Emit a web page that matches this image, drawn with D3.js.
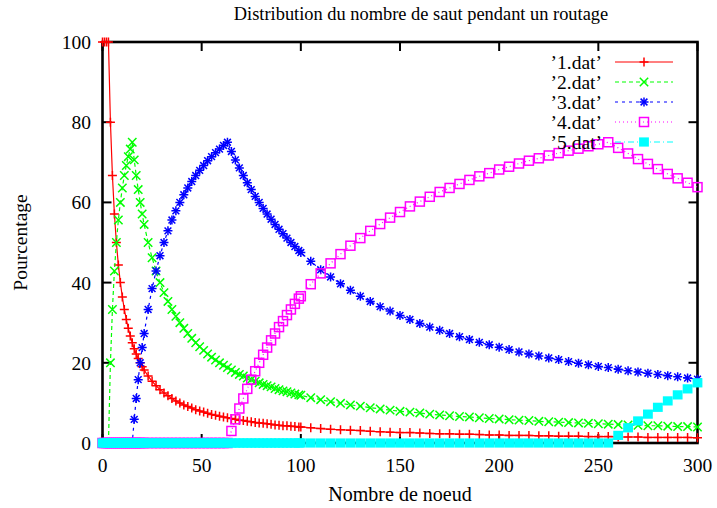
<!DOCTYPE html>
<html>
<head>
<meta charset="utf-8">
<script src="https://cdn.jsdelivr.net/npm/d3@7"></script>
<style>
  body { margin: 0; background: #fff; }
  svg text { font-family: 'Liberation Serif', 'Times New Roman', serif; fill: #000; }
</style>
</head>
<body>
<div id="chart"></div>
<script>
'use strict';

// nombre de noeuds (axe x)
var nodes = [0,1,2,3,4,5,6,7,8,9,10,11,12,13,14,15,16,17,18,19,20,
  21,23,25,27,29,31,33,35,37,39,41,43,45,47,49,51,53,55,57,59,
  61,63,65,67,69,71,73,75,77,79,81,83,85,87,89,91,93,95,97,99,
  100,105,110,115,120,125,130,135,140,145,150,155,160,165,170,175,180,185,190,195,200,
  205,210,215,220,225,230,235,240,245,250,255,260,265,270,275,280,285,290,295,300];

var saut1 = [100,100,100,100,80,66.7,57.1,50,44.4,40,36.4,33.3,30.8,28.6,26.7,25,23.5,22.2,21.1,20,19.0,
  18.2,16.7,15.4,14.3,13.3,12.5,11.8,11.1,10.5,10,9.5,9.1,8.7,8.3,8,7.7,7.4,7.1,6.9,6.7,
  6.5,6.3,6.1,5.9,5.7,5.6,5.4,5.3,5.1,5,4.9,4.8,4.7,4.5,4.4,4.3,4.3,4.2,4.1,4,
  4.0,3.8,3.6,3.4,3.3,3.2,3.1,2.9,2.8,2.7,2.6,2.6,2.5,2.4,2.3,2.3,2.2,2.2,2.1,2.0,2.0,
  1.9,1.9,1.9,1.8,1.8,1.7,1.7,1.7,1.6,1.6,1.6,1.5,1.5,1.5,1.4,1.4,1.4,1.4,1.4,1.3];

var saut2 = [0,0,0,0,20,33.3,42.9,50,55.6,60,63.6,66.7,69.2,71.4,73.3,75,70.6,66.7,63.2,60,57.1,
  54.5,50,46.2,42.9,40,37.5,35.3,33.3,31.6,30,28.6,27.3,26.1,25,24,23.1,22.2,21.4,20.7,20,
  19.4,18.8,18.2,17.6,17.1,16.7,16.2,15.8,15.4,15,14.6,14.3,14,13.6,13.3,13,12.8,12.5,12.2,12,
  11.9,11.3,10.8,10.3,9.9,9.5,9.2,8.8,8.5,8.2,7.9,7.7,7.5,7.2,7.0,6.8,6.6,6.5,6.3,6.1,6.0,
  5.8,5.7,5.6,5.4,5.3,5.2,5.1,5.0,4.9,4.8,4.7,4.6,4.5,4.4,4.3,4.3,4.2,4.1,4.1,4.0];

var saut3 = [0,0,0,0,0,0,0,0,0,0,0,0,0,0,0,0,5.9,11.1,15.8,20,23.8,
  27.3,33.3,38.5,42.9,46.7,50,52.9,55.6,57.9,60,61.9,63.6,65.2,66.7,68,69.2,70.4,71.4,72.4,73.3,
  74.2,75,72.7,70.6,68.6,66.7,64.9,63.2,61.5,60,58.5,57.1,55.8,54.5,53.3,52.2,51.1,50,49,48,
  47.5,45.3,43.2,41.4,39.7,38.1,36.6,35.3,34.0,32.9,31.8,30.8,29.8,28.9,28.1,27.3,26.5,25.8,25.1,24.5,23.9,
  23.3,22.7,22.2,21.7,21.2,20.8,20.3,19.9,19.5,19.1,18.8,18.4,18.0,17.7,17.4,17.1,16.8,16.5,16.2,15.9];

var saut4 = [0,0,0,0,0,0,0,0,0,0,0,0,0,0,0,0,0,0,0,0,0,
  0,0,0,0,0,0,0,0,0,0,0,0,0,0,0,0,0,0,0,0,
  0,0,3.0,5.9,8.6,11.1,13.5,15.8,17.9,20,22.0,23.8,25.6,27.3,28.9,30.4,31.9,33.3,34.7,36,
  36.6,39.6,42.3,44.8,47.1,49.2,51.1,52.9,54.6,56.2,57.6,59.0,60.2,61.4,62.6,63.6,64.6,65.6,66.5,67.3,68.2,
  68.9,69.7,70.4,71.0,71.7,72.3,72.9,73.4,74.0,74.5,75.0,73.6,72.2,70.8,69.6,68.3,67.1,66.0,64.9,63.8];

var saut5 = [0,0,0,0,0,0,0,0,0,0,0,0,0,0,0,0,0,0,0,0,0,
  0,0,0,0,0,0,0,0,0,0,0,0,0,0,0,0,0,0,0,0,
  0,0,0,0,0,0,0,0,0,0,0,0,0,0,0,0,0,0,0,0,
  0,0,0,0,0,0,0,0,0,0,0,0,0,0,0,0,0,0,0,0,0,
  0,0,0,0,0,0,0,0,0,0,0,1.9,3.8,5.5,7.2,8.9,10.5,12.0,13.5,15.0];

var labels = ['\u20191.dat\u2019', '\u20192.dat\u2019', '\u20193.dat\u2019', '\u20194.dat\u2019', '\u20195.dat\u2019'];
var colors = ['#ff0000', '#00ff00', '#0000ff', '#ff00ff', '#00ffff'];
var dashes = [null, '4,3', '3,4', '1,3', '6,3,1,3'];
var symbols = ['plus', 'cross', 'star', 'box', 'fbox'];
var xTicks = [0, 50, 100, 150, 200, 250, 300];
var yTicks = [0, 20, 40, 60, 80, 100];

var width = 717, height = 508;
var margin = {left: 102.5, right: 717 - 697.5, top: 42, bottom: 508 - 443};
var font = "'Liberation Serif', 'Times New Roman', serif";

var svg = d3.select('#chart').append('svg')
  .attr('width', width)
  .attr('height', height);

var x = d3.scaleLinear().domain([0, 300]).range([margin.left, width - margin.right]);
var y = d3.scaleLinear().domain([0, 100]).range([height - margin.bottom, margin.top]);

var series = [saut1, saut2, saut3, saut4, saut5].map(function(vals, i){
  return {
    name: labels[i],
    color: colors[i],
    dash: dashes[i],
    symbol: symbols[i],
    points: vals.map(function(v, j){ return {x: nodes[j], y: v}; })
  };
});

// marqueurs facon gnuplot
var drawSymbol = function(g, type, color){
  var s = 4.5;
  if (type == 'plus' || type == 'star'){
    g.append('path').attr('d', 'M' + (-s) + ',0H' + s + 'M0,' + (-s) + 'V' + s)
      .attr('stroke', color).attr('stroke-width', 1.5).attr('fill', 'none');
  }
  if (type == 'cross' || type == 'star'){
    var c = type == 'star' ? 3.4 : 4.2;
    g.append('path').attr('d', 'M' + (-c) + ',' + (-c) + 'L' + c + ',' + c + 'M' + (-c) + ',' + c + 'L' + c + ',' + (-c))
      .attr('stroke', color).attr('stroke-width', 1.5).attr('fill', 'none');
  }
  if (type == 'box'){
    g.append('rect').attr('x', -4.5).attr('y', -4.5).attr('width', 9).attr('height', 9)
      .attr('stroke', color).attr('stroke-width', 1.5).attr('fill', 'none');
  }
  if (type == 'fbox'){
    g.append('rect').attr('x', -4.9).attr('y', -4.6).attr('width', 9.8).attr('height', 9.2)
      .attr('fill', color);
  }
};

var line = d3.line()
  .x(function(d){ return x(d.x); })
  .y(function(d){ return y(d.y); });

var addText = function(sel, size){
  return sel.append('text').style('font-family', font).style('font-size', size + 'px');
};

// titre et libelles
addText(svg, 18.4)
  .attr('x', 421).attr('y', 20)
  .attr('text-anchor', 'middle')
  .text('Distribution du nombre de saut pendant un routage');

addText(svg, 20)
  .attr('x', (x(0) + x(300)) / 2).attr('y', 501)
  .attr('text-anchor', 'middle')
  .text('Nombre de noeud');

addText(svg, 19.5)
  .attr('transform', 'translate(27,' + (y(0) + y(100)) / 2 + ') rotate(-90)')
  .attr('text-anchor', 'middle')
  .text('Pourcentage');

// graduations
var tickLen = 9;
var axisG = svg.append('g');

xTicks.forEach(function(t){
  axisG.append('line').attr('x1', x(t)).attr('x2', x(t))
    .attr('y1', y(0)).attr('y2', y(0) - tickLen).attr('stroke', '#000').attr('stroke-width', 2);
  axisG.append('line').attr('x1', x(t)).attr('x2', x(t))
    .attr('y1', y(100)).attr('y2', y(100) + tickLen).attr('stroke', '#000').attr('stroke-width', 2);
  addText(axisG, 19.5).attr('x', x(t)).attr('y', 472)
    .attr('text-anchor', 'middle').text(t);
});

yTicks.forEach(function(t){
  axisG.append('line').attr('x1', x(0)).attr('x2', x(0) + tickLen)
    .attr('y1', y(t)).attr('y2', y(t)).attr('stroke', '#000').attr('stroke-width', 2);
  axisG.append('line').attr('x1', x(300)).attr('x2', x(300) - tickLen)
    .attr('y1', y(t)).attr('y2', y(t)).attr('stroke', '#000').attr('stroke-width', 2);
  addText(axisG, 19.5).attr('x', 91).attr('y', y(t) + 7)
    .attr('text-anchor', 'end').text(t);
});

// cadre
svg.append('rect')
  .attr('x', x(0)).attr('y', y(100))
  .attr('width', x(300) - x(0)).attr('height', y(0) - y(100))
  .attr('fill', 'none').attr('stroke', '#000').attr('stroke-width', 2.6);

// courbes
var legendY = [62, 82, 102, 122, 142];

series.forEach(function(s, i){
  var g = svg.append('g');
  g.append('path')
    .attr('d', line(s.points))
    .attr('fill', 'none')
    .attr('stroke', s.color)
    .attr('stroke-width', 1.2)
    .attr('stroke-dasharray', s.dash);

  s.points.forEach(function(p){
    var m = g.append('g').attr('transform', 'translate(' + x(p.x) + ',' + y(p.y) + ')');
    drawSymbol(m, s.symbol, s.color);
  });

  // legende
  var lg = svg.append('g');
  addText(lg, 19.5).attr('x', 602).attr('y', legendY[i] + 6.5)
    .attr('text-anchor', 'end').text(s.name);
  lg.append('line').attr('x1', 615).attr('x2', 673)
    .attr('y1', legendY[i]).attr('y2', legendY[i])
    .attr('stroke', s.color).attr('stroke-width', 1.2)
    .attr('stroke-dasharray', s.dash);
  var lm = lg.append('g').attr('transform', 'translate(644,' + legendY[i] + ')');
  drawSymbol(lm, s.symbol, s.color);
});
</script>
</body>
</html>
